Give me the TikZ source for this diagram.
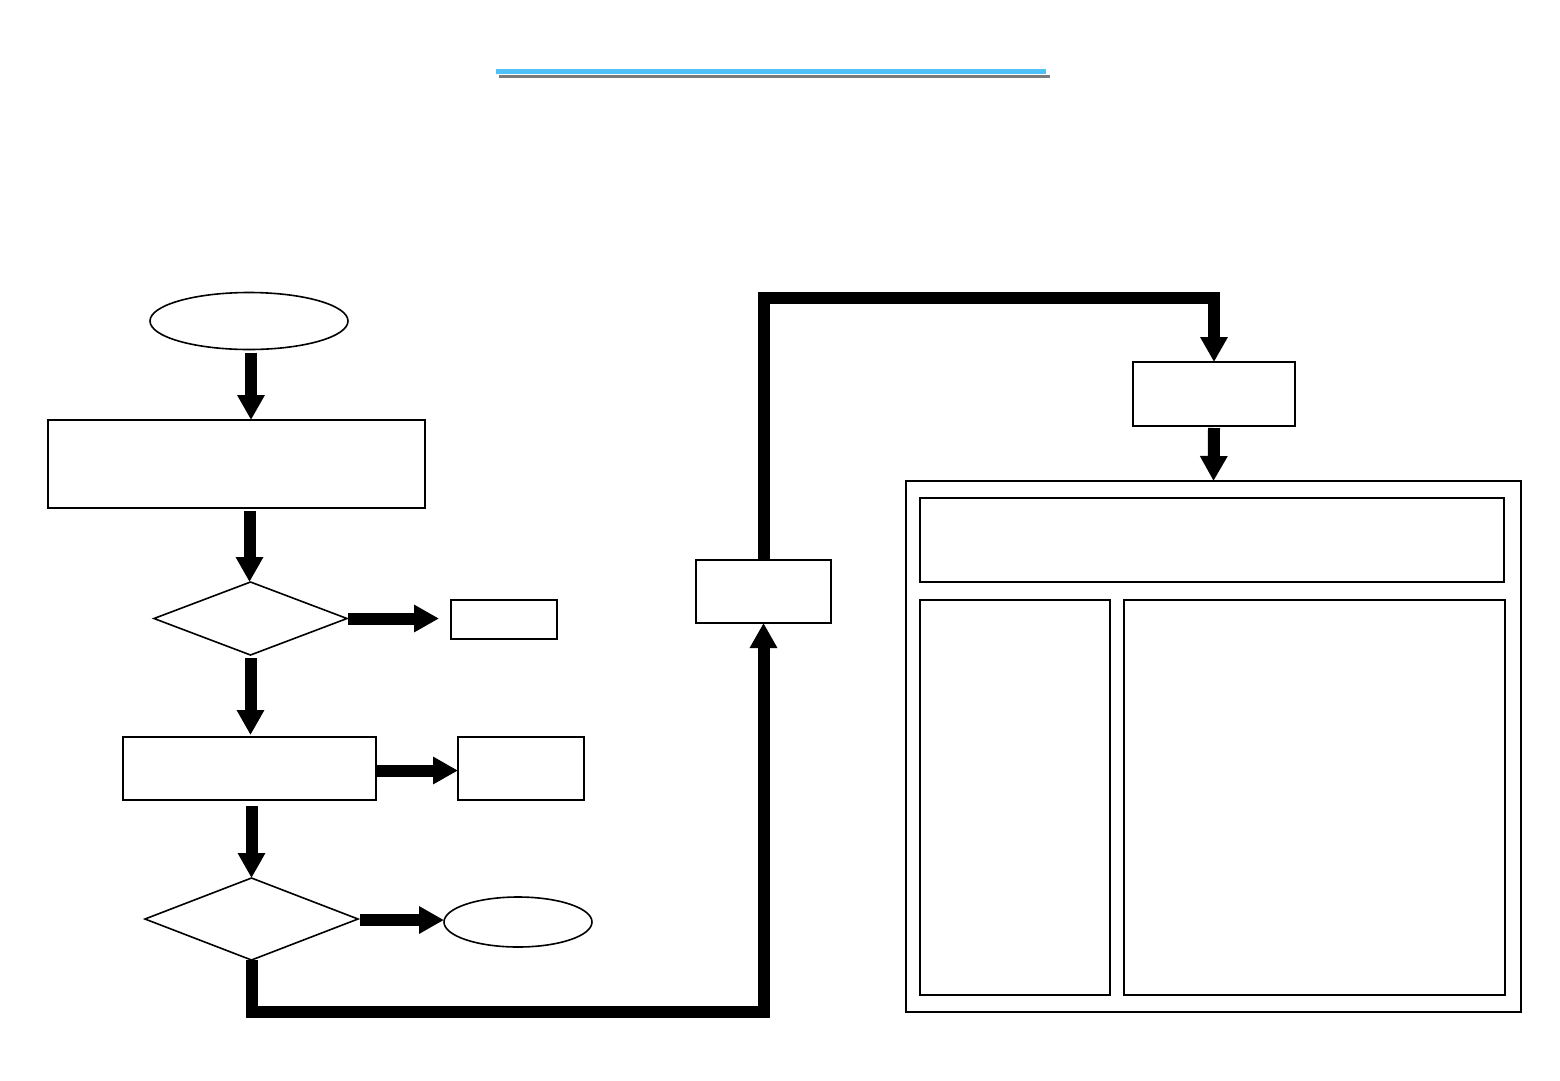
\documentclass[tikz,border=0pt]{standalone}
\usetikzlibrary{shapes.geometric,arrows.meta}
\definecolor{titleblue}{HTML}{4FC0F8}
\definecolor{titlegray}{HTML}{7A7A7A}
\begin{document}
\begin{tikzpicture}[x=1pt,y=-1pt,
  boxline/.style={draw=black, line width=1.6pt, inner sep=0pt, outer sep=0pt},
  rbox/.style={boxline, rectangle},
  oval/.style={boxline, ellipse},
  dia/.style={boxline, diamond},
  thinbox/.style={draw=black, line width=1.3pt, rectangle, inner sep=0pt, outer sep=0pt},
  flowarrow/.style={line width=12pt, -{Triangle[width=26pt,length=25pt]}},
  flowline/.style={line width=12pt, line join=miter}
]
\useasboundingbox (0,0) rectangle (1560,1080);
\fill[white] (0,0) rectangle (1560,1080);

% title underline
\draw[titlegray, line width=3pt] (499,76.5) -- (1050,76.5);
\draw[titleblue, line width=4.5pt] (496,71.5) -- (1046,71.5);

% left column
\node[oval, minimum width=198pt, minimum height=57pt] (start) at (249,321) {};
\node[rbox, minimum width=377pt, minimum height=88pt] (r1) at (236.5,464) {};
\node[dia, minimum width=193pt, minimum height=73pt] (d1) at (250.5,618.5) {};
\node[rbox, minimum width=106pt, minimum height=39pt] (s1) at (504,619.5) {};
\node[rbox, minimum width=253pt, minimum height=63pt] (r2) at (249.5,768.5) {};
\node[rbox, minimum width=126pt, minimum height=63pt] (s2) at (521,768.5) {};
\node[dia, minimum width=213pt, minimum height=82pt] (d2) at (251.5,919) {};
\node[oval, minimum width=148pt, minimum height=50pt] (fin) at (518,922) {};

% middle and right
\node[rbox, minimum width=135pt, minimum height=63pt] (m) at (763.5,591.5) {};
\node[rbox, minimum width=162pt, minimum height=64pt] (t) at (1214,394) {};
\node[rbox, line width=2pt, minimum width=615pt, minimum height=531pt] (big) at (1213.5,746.5) {};
\node[thinbox, minimum width=584pt, minimum height=84pt] (in1) at (1212,540) {};
\node[thinbox, minimum width=190pt, minimum height=395pt] (in2) at (1015,797.5) {};
\node[thinbox, minimum width=381pt, minimum height=395pt] (in3) at (1314.5,797.5) {};

\coordinate (lowY) at (0,1011.5);
\coordinate (highY) at (0,298);

% connectors
\draw[flowarrow] ([yshift=-3pt,xshift=2pt]start.south) -- ([xshift=2pt]start.south |- r1.north);
\draw[flowarrow] ([xshift=-1pt]d1.north |- r1.south) ++(0,3) -- ([xshift=-1pt]d1.north);
\draw[flowarrow] ([xshift=1pt]d1.east) -- ([xshift=-12pt]d1.east -| s1.west);
\draw[flowarrow] ([yshift=-3pt]d1.south) -- ([yshift=2pt]d1.south |- r2.north);
\draw[flowarrow] ([xshift=1pt,yshift=-2pt]r2.east) -- ([yshift=-2pt]r2.east -| s2.west);
\draw[flowarrow] (d2.north |- r2.south) ++(0,6) -- (d2.north);
\draw[flowarrow] ([xshift=2pt,yshift=-1pt]d2.east) -- ([yshift=-1pt]d2.east -| fin.west);
\draw[flowline] (d2.south) -- (d2.south |- lowY) -- (m.south |- lowY) -- ([yshift=-25pt]m.south);
\draw[flowarrow] ([yshift=-26pt]m.south) -- (m.south);
\draw[flowline] (m.north) -- (m.north |- highY) -- (t.north |- highY) -- ([yshift=25pt]t.north);
\draw[flowarrow] ([yshift=26pt]t.north) -- (t.north);
\draw[flowarrow] ([yshift=-2pt]t.south) -- (big.north);
\end{tikzpicture}
\end{document}
